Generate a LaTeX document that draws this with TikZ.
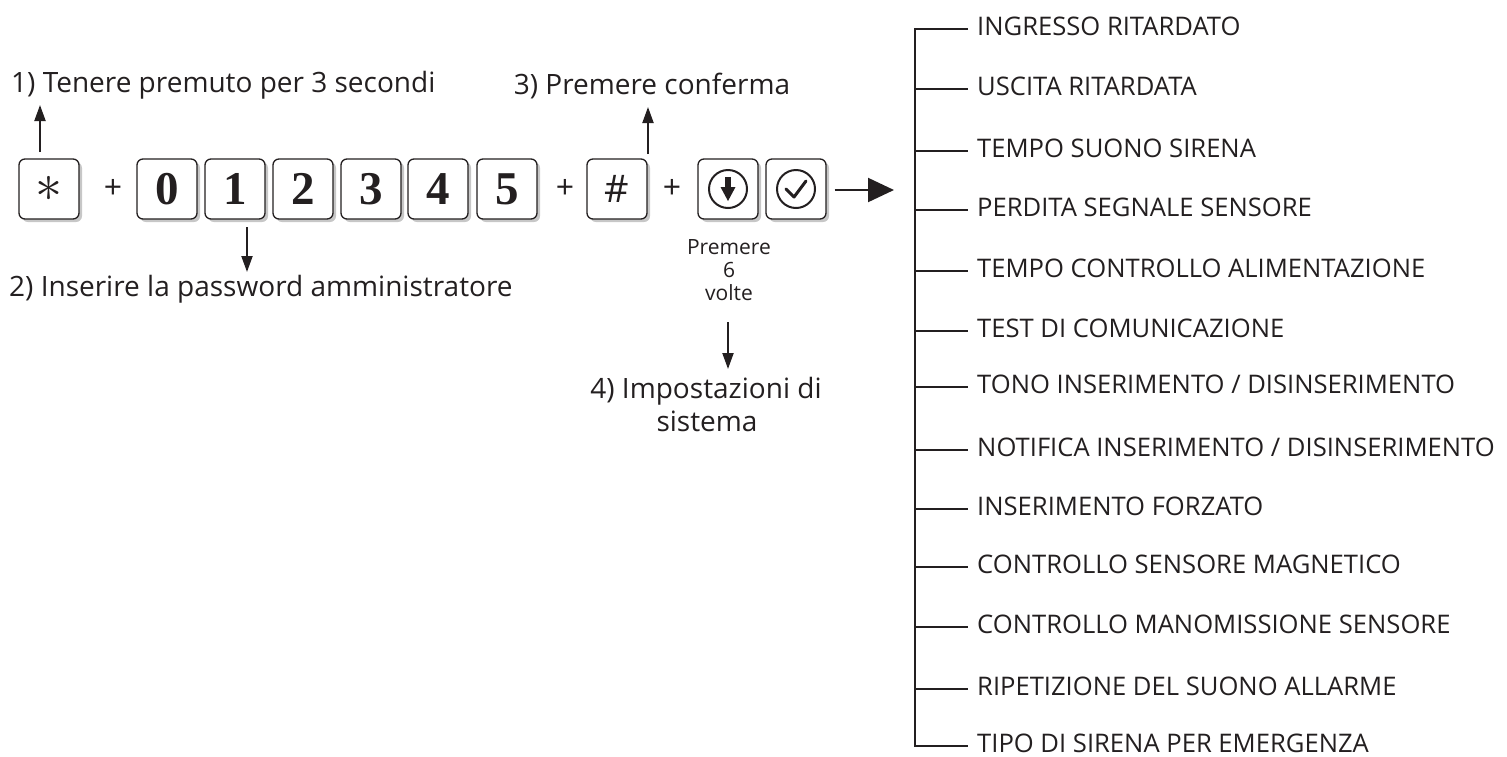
\documentclass[tikz,border=0pt]{standalone}
\usepackage{fontspec}
\setmainfont{Open Sans}
\newfontfamily\keyfont{Liberation Serif}
\usetikzlibrary{arrows.meta,shadows}
\definecolor{ink}{RGB}{35,31,32}
\begin{document}
\begin{tikzpicture}[x=1pt,y=-1pt, color=ink,
  key/.style={draw=ink, line width=1.3pt, rounded corners=6pt, minimum width=60pt, minimum height=60pt, inner sep=0pt, fill=white,
    drop shadow={shadow xshift=3pt, shadow yshift=-3pt, fill=black!22, opacity=1}},
  digit/.style={key, font=\keyfont\bfseries\fontsize{47}{47}\selectfont},
  plus/.style={font=\fontsize{32}{32}\selectfont, inner sep=0pt},
  lbl/.style={font=\fontsize{28}{32}\selectfont, inner sep=0pt, anchor=base},
  small/.style={font=\fontsize{21}{24}\selectfont, inner sep=0pt, anchor=base},
  arr/.style={line width=2pt, -{Triangle[length=16pt,width=11pt]}},
  bigarr/.style={line width=2.2pt, -{Triangle[length=26pt,width=24pt]}},
  item/.style={anchor=west, inner sep=0pt, text height=18pt, text depth=6pt, font=\fontsize{25.6}{30}\selectfont},
  branch/.style={line width=1.2pt}
]
\useasboundingbox (0,0) rectangle (1507,756);

% keys
\node[key] (star) at (49,189) {\scalebox{5.4}{$\ast$}};
\node[plus] (p1) at (113,189) {+};
\node[digit] (k0) at (167,189) {0};
\node[digit] (k1) at (235,189) {1};
\node[digit] (k2) at (303,189) {2};
\node[digit] (k3) at (371,189) {3};
\node[digit] (k4) at (438,189) {4};
\node[digit] (k5) at (507,189) {5};
\node[plus] (p2) at (565,189) {+};
\node[key, font=\fontsize{38}{38}\selectfont] (hash) at (617,189) {\#};
\node[plus] (p3) at (672,189) {+};
\node[key] (down) at (728,189) {};
\node[key] (chk) at (796,189) {};

% icons
\draw[line width=2pt] (down.center) circle[radius=19];
\fill (725,177) rectangle (731,190);
\fill (720.5,187) -- (735.5,187) -- (728,201) -- cycle;
\draw[line width=2pt] (chk.center) circle[radius=19];
\draw[line width=3pt, line join=round, line cap=round] (786,189) -- (794,197) -- (806,181);

% labels
\node[lbl, anchor=base west] (t1) at (11,92) {1) Tenere premuto per 3 secondi};
\node[lbl, anchor=base west] (t2) at (9,296) {2) Inserire la password amministratore};
\node[lbl] (t3) at (652,94) {3) Premere conferma};
\node[small] (s1) at (729,254) {Premere};
\node[small] (s2) at (729,277) {6};
\node[small] (s3) at (729,300) {volte};
\node[lbl] (t4a) at (706,398) {4) Impostazioni di};
\node[lbl] (t4b) at (707,431) {sistema};

% arrows
\coordinate (a1s) at (40,152); \coordinate (a1e) at (40,105);
\draw[arr] (a1s) -- (a1e);
\coordinate (a2s) at (247,227); \coordinate (a2e) at (247,272);
\draw[arr] (a2s) -- (a2e);
\coordinate (a3s) at (648,154); \coordinate (a3e) at (648,107);
\draw[arr] (a3s) -- (a3e);
\coordinate (a4s) at (728,322); \coordinate (a4e) at (728,369);
\draw[arr] (a4s) -- (a4e);
\coordinate (menu) at (894,190);
\draw[bigarr] ([xshift=8pt]chk.east |- 0,190) -- (menu);

% tree
\foreach \y/\t [count=\i] in {29/{INGRESSO RITARDATO}, 89/{USCITA RITARDATA}, 151/{TEMPO SUONO SIRENA}, 210/{PERDITA SEGNALE SENSORE}, 271/{TEMPO CONTROLLO ALIMENTAZIONE}, 331/{TEST DI COMUNICAZIONE}, 387/{TONO INSERIMENTO / DISINSERIMENTO}, 450/{NOTIFICA INSERIMENTO / DISINSERIMENTO}, 509/{INSERIMENTO FORZATO}, 567/{CONTROLLO SENSORE MAGNETICO}, 627/{CONTROLLO MANOMISSIONE SENSORE}, 689/{RIPETIZIONE DEL SUONO ALLARME}, 746/{TIPO DI SIRENA PER EMERGENZA}}
  {\node[item] (i\i) at (977,\y) {\t};}
\draw[branch] ([xshift=-9pt]i1.west) -- (915,29) -- (915,746) -- ([xshift=-9pt]i13.west);
\foreach \i/\y in {2/89,3/151,4/210,5/271,6/331,7/387,8/450,9/509,10/567,11/627,12/689}
  {\draw[branch] (915,\y) -- ([xshift=-9pt]i\i.west);}
\end{tikzpicture}
\end{document}
